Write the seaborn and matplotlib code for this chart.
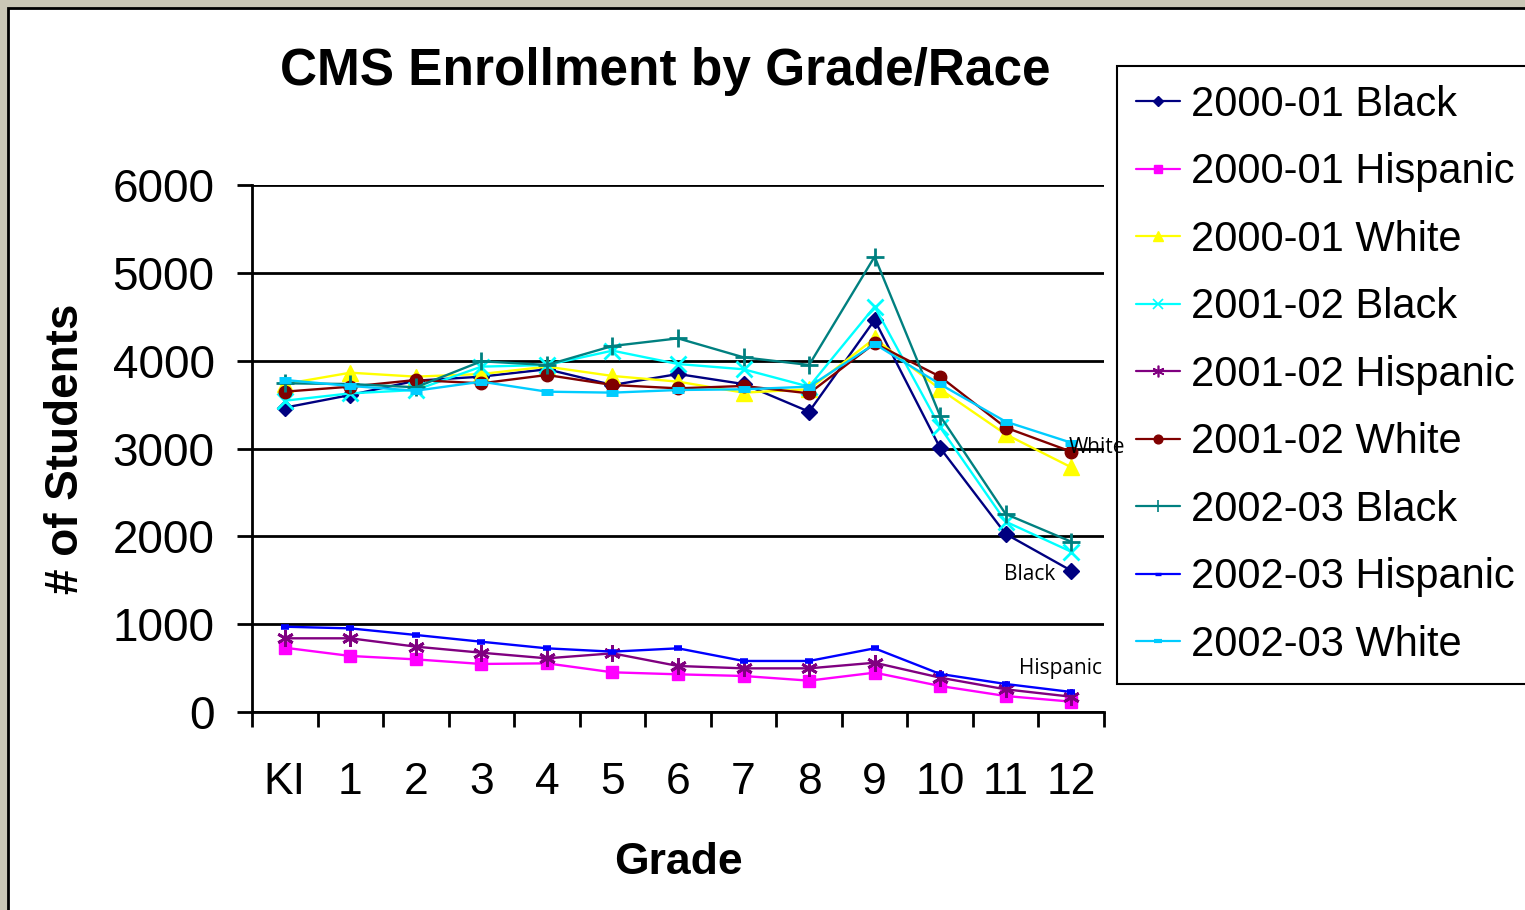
import pandas as pd
import matplotlib
matplotlib.use("Agg")
import matplotlib.pyplot as plt
import seaborn as sns
from matplotlib.patches import Rectangle
from matplotlib.lines import Line2D

grades = ['KI', '1', '2', '3', '4', '5', '6', '7', '8', '9', '10', '11', '12']

black_2000 = [3465, 3609, 3772, 3818, 3902, 3723, 3848, 3734, 3419, 4463, 3006, 2027, 1609]
hisp_2000 = [732, 638, 599, 547, 554, 452, 429, 410, 357, 448, 296, 182, 118]
white_2000 = [3734, 3863, 3818, 3848, 3932, 3826, 3761, 3636, 3674, 4254, 3674, 3162, 2786]
black_2001 = [3544, 3628, 3666, 3932, 3951, 4114, 3962, 3902, 3704, 4615, 3241, 2167, 1825]
hisp_2001 = [839, 839, 744, 675, 611, 668, 524, 497, 497, 561, 391, 258, 174]
white_2001 = [3647, 3704, 3780, 3742, 3837, 3723, 3685, 3712, 3628, 4197, 3818, 3238, 2964]
black_2002 = [3742, 3734, 3697, 3993, 3951, 4167, 4254, 4038, 3951, 5184, 3370, 2254, 1939]
hisp_2002 = [971, 952, 877, 800, 725, 687, 725, 581, 581, 725, 433, 319, 228]
white_2002 = [3780, 3712, 3658, 3761, 3647, 3636, 3666, 3674, 3704, 4190, 3731, 3306, 3066]

series = [
    ('2000-01 Black', black_2000, '#000080', 'D', 8, 1),
    ('2000-01 Hispanic', hisp_2000, '#FF00FF', 's', 9, 1),
    ('2000-01 White', white_2000, '#FFFF00', '^', 11, 1),
    ('2001-02 Black', black_2001, '#00FFFF', 'x', 11, 2),
    ('2001-02 Hispanic', hisp_2001, '#800080', (6, 2, 0), 12, 2),
    ('2001-02 White', white_2001, '#800000', 'o', 9, 1),
    ('2002-03 Black', black_2002, '#008080', '+', 13, 2),
    ('2002-03 Hispanic', hisp_2002, '#0000FF', '_', 6, 4),
    ('2002-03 White', white_2002, '#00CCFF', '_', 9, 5),
]

sns.set_style('white')
plt.rcParams['font.family'] = ['Liberation Sans', 'DejaVu Sans']
plt.rcParams['text.color'] = 'black'
plt.rcParams['xtick.color'] = 'black'
plt.rcParams['ytick.color'] = 'black'
plt.rcParams['axes.labelcolor'] = 'black'

fig = plt.figure(figsize=(15.25, 9.1), dpi=100)
fig.patch.set_facecolor('#cac7b6')
fig.patches.append(Rectangle((8 / 1525, -0.05), 1.1, 1 - 8 / 910 + 0.05,
                             transform=fig.transFigure, facecolor='white',
                             edgecolor='black', linewidth=2, zorder=-10))

ax = fig.add_axes([252 / 1525, 1 - 712 / 910, 852 / 1525, 527 / 910])
ax.set_zorder(1)
ax.set_facecolor('none')

handles = []
for name, vals, color, marker, ms, mew in series:
    df = pd.DataFrame({'x': range(len(grades)), 'y': vals})
    sns.lineplot(data=df, x='x', y='y', ax=ax, color=color, marker=marker,
                 markersize=ms, markeredgewidth=mew, markeredgecolor=color,
                 linewidth=1.7, zorder=3, legend=False)
    handles.append(Line2D([], [], color=color, marker=marker, markersize=ms * 0.7,
                          markeredgewidth=max(1, mew * 0.6), markeredgecolor=color,
                          linewidth=1.6, label=name))

ax.set_xlim(-0.5, 12.5)
ax.set_ylim(0, 6000)
ax.set_yticks(range(0, 6001, 1000))
ax.set_xticks(range(len(grades)))
ax.set_xticklabels(grades)
ax.set_xticks([i - 0.5 for i in range(len(grades) + 1)], minor=True)
ax.tick_params(axis='x', which='major', bottom=True, length=0, labelsize=32, pad=36)
ax.tick_params(axis='x', which='minor', bottom=True, length=11, width=2,
               direction='out', color='black')
ax.tick_params(axis='y', left=True, length=11, width=2, direction='out', color='black',
               labelsize=33, pad=16)
ax.yaxis.grid(True, color='black', linewidth=2)
ax.set_axisbelow(True)
for s in ['top', 'right']:
    ax.spines[s].set_visible(False)
for s in ['left', 'bottom']:
    ax.spines[s].set_color('black')
    ax.spines[s].set_linewidth(2)

ax.set_xlabel('Grade', fontsize=32, fontweight='bold', labelpad=28)
ax.set_ylabel('# of Students', fontsize=33, fontweight='bold', labelpad=18)

ax.text(12.39, 3017, 'White', fontsize=15, family=['Open Sans', 'DejaVu Sans'],
        ha='center', va='center', zorder=5)
ax.text(11.37, 1571, 'Black', fontsize=15, family=['Open Sans', 'DejaVu Sans'],
        ha='center', va='center', zorder=5)
ax.text(11.84, 490, 'Hispanic', fontsize=15, family=['Open Sans', 'DejaVu Sans'],
        ha='center', va='center', zorder=5)

fig.text(665 / 1525, 1 - 72 / 910, 'CMS Enrollment by Grade/Race', fontsize=37,
         fontweight='bold', ha='center', va='center')

leg = fig.legend(handles=handles, loc='upper left', bbox_to_anchor=(1117 / 1525, 1 - 66 / 910),
                 fontsize=30, frameon=True, fancybox=False, framealpha=1,
                 edgecolor='black', borderaxespad=0, borderpad=0.45,
                 labelspacing=0.66, handlelength=1.05, handletextpad=0.28)
leg.get_frame().set_linewidth(1.5)
leg.set_zorder(0.5)

fig.savefig('out.png', dpi=100, facecolor=fig.get_facecolor())
